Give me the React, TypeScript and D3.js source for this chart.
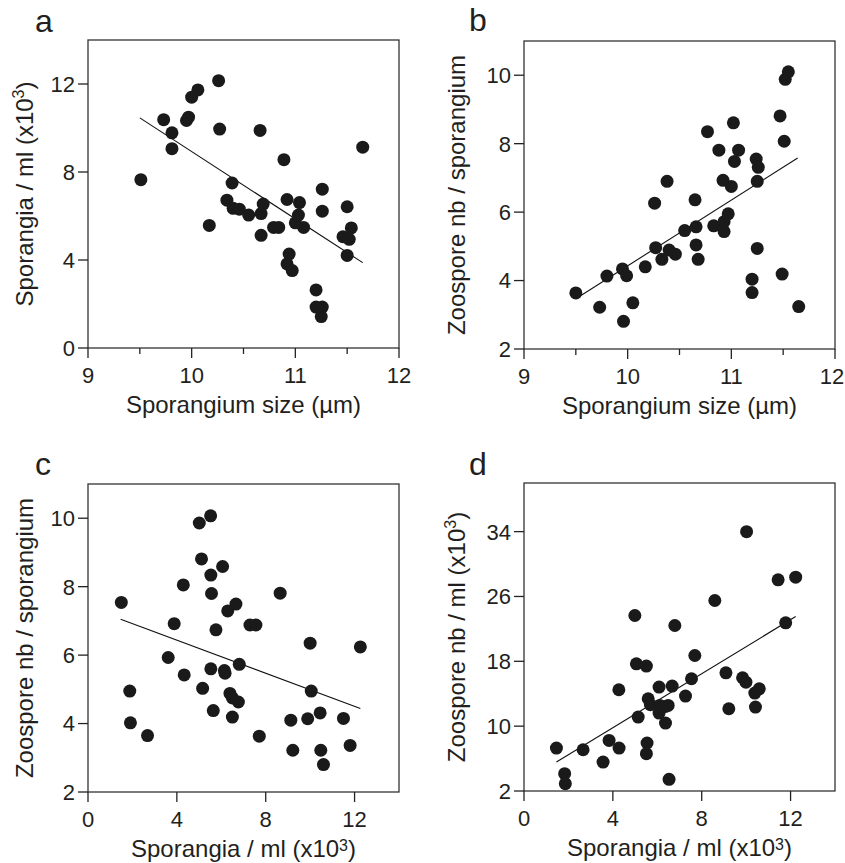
import React from "react";
import * as d3 from "d3";

type Pt = [number, number];

// sporangium size (µm) vs sporangia / ml (x10^3)
const sizeVsSporangia: Pt[] = [
  [9.51, 7.65], [9.73, 10.38], [9.81, 9.78], [9.81, 9.06], [9.95, 10.34], [9.97, 10.49],
  [10.0, 11.4], [10.06, 11.73], [10.26, 12.15], [10.27, 9.95], [10.17, 5.57], [10.34, 6.72],
  [10.39, 7.5], [10.4, 6.35], [10.46, 6.31], [10.55, 6.04], [10.66, 9.89], [10.67, 6.11],
  [10.69, 6.54], [10.67, 5.12], [10.79, 5.48], [10.84, 5.48], [10.89, 8.56], [10.92, 6.75],
  [10.94, 4.27], [10.92, 3.82], [10.97, 3.52], [11.0, 5.69], [11.04, 6.61], [11.03, 6.04],
  [11.08, 5.48], [11.2, 2.64], [11.2, 1.86], [11.26, 1.86], [11.25, 1.43], [11.26, 7.22],
  [11.26, 6.22], [11.46, 5.06], [11.5, 6.42], [11.52, 4.94], [11.54, 5.46], [11.5, 4.21],
  [11.65, 9.13],
];

// sporangium size (µm) vs zoospore nb / sporangium
const sizeVsZoospore: Pt[] = [
  [9.5, 3.64], [9.73, 3.22], [9.8, 4.13], [9.95, 4.34], [9.99, 4.14], [9.96, 2.81],
  [10.05, 3.35], [10.17, 4.4], [10.26, 6.26], [10.27, 4.96], [10.33, 4.62], [10.38, 6.9],
  [10.4, 4.89], [10.46, 4.77], [10.55, 5.46], [10.65, 6.36], [10.66, 5.57], [10.66, 5.04],
  [10.68, 4.62], [10.77, 8.35], [10.83, 5.6], [10.88, 7.81], [10.92, 6.93], [10.93, 5.43],
  [10.93, 5.72], [10.97, 5.95], [11.0, 6.75], [11.02, 8.61], [11.03, 7.48], [11.07, 7.81],
  [11.2, 4.04], [11.2, 3.65], [11.24, 7.55], [11.26, 7.31], [11.25, 6.9], [11.25, 4.94],
  [11.47, 8.81], [11.51, 8.07], [11.49, 4.19], [11.52, 9.88], [11.55, 10.1], [11.65, 3.24],
];

// sporangia / ml (x10^3) vs zoospore nb / sporangium
const sporangiaVsZoospore: Pt[] = [
  [1.5, 7.54], [1.88, 4.95], [1.91, 4.02], [2.68, 3.65], [3.61, 5.93], [3.88, 6.92],
  [4.29, 8.05], [4.33, 5.42], [5.01, 9.86], [5.11, 8.81], [5.16, 5.03], [5.52, 10.07],
  [5.53, 8.34], [5.56, 7.8], [5.53, 5.6], [5.64, 4.38], [5.76, 6.74], [6.06, 8.59],
  [6.14, 5.55], [6.17, 5.47], [6.29, 7.29], [6.66, 7.49], [6.39, 4.88], [6.5, 4.75],
  [6.77, 4.63], [6.5, 4.19], [6.81, 5.73], [7.29, 6.88], [7.56, 6.88], [7.71, 3.63],
  [8.65, 7.81], [9.13, 4.1], [9.22, 3.22], [9.89, 4.14], [10.0, 6.35], [10.05, 4.95],
  [10.45, 4.31], [10.48, 3.22], [10.6, 2.8], [11.5, 4.15], [11.8, 3.36], [12.26, 6.24],
];

// sporangia / ml (x10^3) vs zoospore nb / ml (x10^3)
const sporangiaVsZoosporeMl: Pt[] = [
  [1.46, 7.3], [1.83, 4.14], [1.86, 2.9], [2.66, 7.09], [3.56, 5.57], [3.83, 8.24],
  [4.28, 7.3], [4.27, 14.49], [4.99, 23.65], [5.06, 17.69], [5.14, 11.12], [5.51, 17.41],
  [5.54, 7.92], [5.51, 6.6], [5.59, 13.38], [5.69, 12.64], [6.08, 14.82], [6.11, 12.56],
  [6.08, 11.61], [6.37, 12.44], [6.49, 12.56], [6.37, 10.38], [6.53, 3.44], [6.67, 14.94],
  [6.79, 22.42], [7.27, 13.71], [7.54, 15.85], [7.69, 18.72], [8.59, 25.5], [9.09, 16.58],
  [9.22, 12.15], [9.84, 15.97], [9.99, 15.43], [10.02, 34.0], [10.39, 14.08], [10.59, 14.61],
  [10.42, 12.35], [11.44, 28.05], [11.78, 22.75], [12.23, 28.38],
];

// fitted regression lines (end points)
const fitA: Pt[] = [[9.5, 10.46], [11.65, 3.88]];
const fitB: Pt[] = [[9.5, 3.47], [11.64, 7.58]];
const fitC: Pt[] = [[1.47, 7.05], [12.26, 4.44]];
const fitD: Pt[] = [[1.46, 5.57], [12.23, 23.53]];

const ticksSize = [9, 10, 11, 12];
const minorTicksSize = [9.5, 10.5, 11.5];
const ticksSporangia = [0, 4, 8, 12];
const ticksZoospore = [2, 4, 6, 8, 10];
const ticksZoosporeMl = [2, 10, 18, 26, 34];

const FONT = "'Liberation Sans', Arial, Helvetica, sans-serif";
const INK = "#231f20";
const W = 311;
const H = 308;
const PAGE_W = 845;

const titleSize = <>Sporangium size (µm)</>;
const titleZoospore = <>Zoospore nb / sporangium</>;
const titleSporangia = (
  <>
    Sporangia / ml (x10
    <tspan fontSize={16} dy={-9}>3</tspan>
    <tspan dy={9}>)</tspan>
  </>
);
const titleSporangiaX = (
  <>
    Sporangia / ml (x10
    <tspan fontSize={16} dy={-6}>3</tspan>
    <tspan dy={6}>)</tspan>
  </>
);
const titleZoosporeMl = (
  <>
    Zoospore nb / ml (x10
    <tspan fontSize={16} dy={-9}>3</tspan>
    <tspan dy={9}>)</tspan>
  </>
);

type PanelProps = {
  left: number;
  top: number;
  letter: string;
  letterX: number;
  letterY: number;
  xDomain: [number, number];
  yDomain: [number, number];
  xTicks: number[];
  xMinor?: number[];
  yTicks: number[];
  points: Pt[];
  fit: Pt[];
  xTitle: React.ReactNode;
  yTitle: React.ReactNode;
  yTitleOffset: number;
};

function Panel(p: PanelProps) {
  const x = d3.scaleLinear().domain(p.xDomain).range([p.left, p.left + W]);
  const y = d3.scaleLinear().domain(p.yDomain).range([p.top + H, p.top]);
  const line = d3
    .line<Pt>()
    .x((d) => x(d[0]))
    .y((d) => y(d[1]));
  const bottom = p.top + H;
  const cx = p.left + W / 2;
  const cy = p.top + H / 2;

  return (
    <g>
      <text x={p.letterX} y={p.letterY} fontSize={32} fill={INK}>
        {p.letter}
      </text>
      <rect x={p.left} y={p.top} width={W} height={H} fill="none" stroke="#333" strokeWidth={1.3} />
      {p.xTicks.map((t) => (
        <g key={"x" + t}>
          <line x1={x(t)} x2={x(t)} y1={bottom} y2={bottom + 10} stroke="#222" strokeWidth={1.3} />
          {/* keep the last label inside the page */}
          <text x={Math.min(x(t), PAGE_W - 13)} y={bottom + 35} textAnchor="middle" fontSize={22} fill={INK}>
            {t}
          </text>
        </g>
      ))}
      {(p.xMinor || []).map((t) => (
        <line key={"m" + t} x1={x(t)} x2={x(t)} y1={bottom} y2={bottom + 6} stroke="#222" strokeWidth={1.3} />
      ))}
      {p.yTicks.map((t) => (
        <g key={"y" + t}>
          <line x1={p.left - 10} x2={p.left} y1={y(t)} y2={y(t)} stroke="#222" strokeWidth={1.3} />
          <text x={p.left - 13} y={y(t)} dy="0.36em" textAnchor="end" fontSize={22} fill={INK}>
            {t}
          </text>
        </g>
      ))}
      <path d={line(p.fit) || ""} fill="none" stroke="#111" strokeWidth={1.1} />
      {p.points.map((d, i) => (
        <circle key={i} cx={x(d[0])} cy={y(d[1])} r={6.5} fill="#1a1a1a" />
      ))}
      <text x={cx} y={bottom + 65} textAnchor="middle" fontSize={24} fill={INK}>
        {p.xTitle}
      </text>
      <text
        transform={`translate(${p.left - p.yTitleOffset},${cy}) rotate(-90)`}
        textAnchor="middle"
        fontSize={24}
        fill={INK}
      >
        {p.yTitle}
      </text>
    </g>
  );
}

export default function App() {
  return (
    <svg
      width={845}
      height={863}
      style={{ position: "absolute", left: 0, top: 0, background: "#fff" }}
      fontFamily={FONT}
    >
      <Panel
        left={88}
        top={40}
        letter="a"
        letterX={35}
        letterY={32}
        xDomain={[9, 12]}
        yDomain={[0, 14]}
        xTicks={ticksSize}
        xMinor={minorTicksSize}
        yTicks={ticksSporangia}
        points={sizeVsSporangia}
        fit={fitA}
        xTitle={titleSize}
        yTitle={titleSporangia}
        yTitleOffset={55}
      />
      <Panel
        left={524}
        top={41}
        letter="b"
        letterX={469}
        letterY={31}
        xDomain={[9, 12]}
        yDomain={[2, 11]}
        xTicks={ticksSize}
        xMinor={minorTicksSize}
        yTicks={ticksZoospore}
        points={sizeVsZoospore}
        fit={fitB}
        xTitle={titleSize}
        yTitle={titleZoospore}
        yTitleOffset={59}
      />
      <Panel
        left={88}
        top={484}
        letter="c"
        letterX={35}
        letterY={475}
        xDomain={[0, 14]}
        yDomain={[2, 11]}
        xTicks={ticksSporangia}
        yTicks={ticksZoospore}
        points={sporangiaVsZoospore}
        fit={fitC}
        xTitle={titleSporangiaX}
        yTitle={titleZoospore}
        yTitleOffset={55}
      />
      <Panel
        left={524}
        top={483}
        letter="d"
        letterX={469}
        letterY={475}
        xDomain={[0, 14]}
        yDomain={[2, 40]}
        xTicks={ticksSporangia}
        yTicks={ticksZoosporeMl}
        points={sporangiaVsZoosporeMl}
        fit={fitD}
        xTitle={titleSporangiaX}
        yTitle={titleZoosporeMl}
        yTitleOffset={59}
      />
    </svg>
  );
}
